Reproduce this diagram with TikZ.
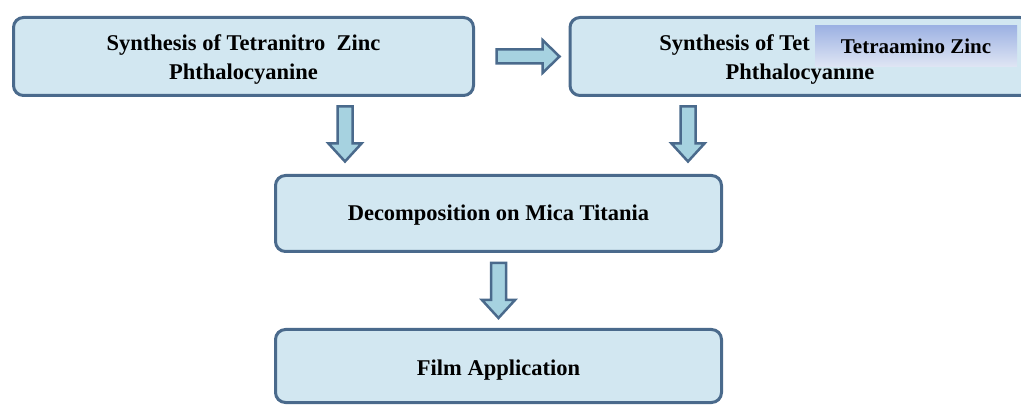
\documentclass[tikz,border=0pt]{standalone}
\usepackage{fontspec}
\setmainfont{Liberation Serif}
\usetikzlibrary{calc}

\definecolor{edgeblue}{HTML}{4A6A8C}
\definecolor{boxfill}{HTML}{D2E7F1}
\definecolor{arrowfill}{HTML}{A6D2E0}
\definecolor{labeltop}{HTML}{9DB2E3}
\definecolor{labelbottom}{HTML}{E0E6F4}

\tikzset{
  stage/.style={draw=edgeblue, fill=boxfill, line width=3pt, rounded corners=10pt,
    outer sep=0pt, inner sep=0pt},
  stagetext/.style={align=center, inner sep=0pt,
    font=\bfseries\fontsize{22.5}{29}\selectfont},
  blockarrow/.style={draw=edgeblue, fill=arrowfill, line width=2.5pt, line join=miter},
  tag/.style={top color=labeltop, bottom color=labelbottom, draw=none,
    minimum width=202pt, minimum height=41pt, inner sep=0pt,
    font=\bfseries\fontsize{21}{25}\selectfont},
  pics/blockdown/.style={code={
    \draw[blockarrow] (-7.5,0) -- (7.5,0) -- (7.5,37) -- (16.5,37) -- (0,55)
      -- (-16.5,37) -- (-7.5,37) -- cycle;}},
  pics/blockright/.style={code={
    \draw[blockarrow] (0,-7) -- (46,-7) -- (46,-16.5) -- (63,0) -- (46,16.5)
      -- (46,7) -- (0,7) -- cycle;}}
}

\begin{document}
\begin{tikzpicture}[x=1pt, y=-1pt]
  \useasboundingbox (0,0) rectangle (1021,406);
  \fill[white] (0,0) rectangle (1021,406);
  \clip (0,0) rectangle (1021,406);

  % process stages
  \node[stage, minimum width=460pt, minimum height=78pt] (nitro) at (243.5,56.5) {};
  \node[stage, minimum width=460pt, minimum height=78pt] (amino) at (800,56.5) {};
  \node[stage, minimum width=446pt, minimum height=76pt] (decomp) at (498.5,213.5) {};
  \node[stage, minimum width=446pt, minimum height=73pt] (film) at (498.5,366) {};

  % stage captions
  \node[stagetext] (nitrotext) at ($(nitro.center)+(0,3)$)
    {Synthesis of Tetranitro\ \ Zinc\\Phthalocyanine};
  \node[stagetext] (aminotext) at ($(amino.center)+(0,3)$)
    {Synthesis of Tet\phantom{raamino Zinc}\\Phthalocyanine};
  \node[stagetext] (decomptext) at ($(decomp.center)+(0,2)$)
    {Decomposition on Mica Titania};
  \node[stagetext] (filmtext) at ($(film.center)+(0,4)$)
    {Film Application};

  % caption tag laid over the second stage
  \node[tag] (aminotag) at (916,46.5) {Tetraamino Zinc};

  % block arrows between the stages
  \coordinate (r1) at ($(nitro.east)+(23,0)$);
  \coordinate (d1) at ($(nitro.south)+(101.5,11)$);
  \coordinate (d2) at ($(amino.south)+(-112,11)$);
  \coordinate (d3) at ($(decomp.south)+(0,11.5)$);

  \pic at (r1) {blockright};
  \pic at (d1) {blockdown};
  \pic at (d2) {blockdown};
  \pic at (d3) {blockdown};
\end{tikzpicture}
\end{document}
